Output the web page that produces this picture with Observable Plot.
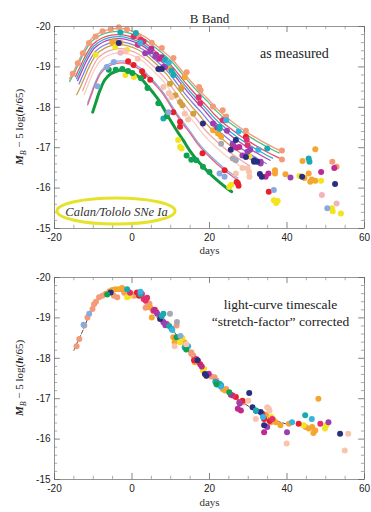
<!DOCTYPE html>
<html><head><meta charset="utf-8">
<script src="https://cdn.jsdelivr.net/npm/d3@7"></script>
<script src="https://cdn.jsdelivr.net/npm/@observablehq/plot@0.6"></script>
<style>body{margin:0;background:#fff;} #c svg{display:block;}</style>
</head><body><div id="c"></div>
<script>
// ---------- axes ----------
const xTicks = [-20, 0, 20, 40, 60];
const yTicks = [-20, -19, -18, -17, -16, -15];
const xMinor = [-15, -10, -5, 5, 10, 15, 25, 30, 35, 45, 50, 55];
const yMinor = [-19.8, -19.6, -19.4, -19.2, -18.8, -18.6, -18.4, -18.2, -17.8, -17.6, -17.4, -17.2, -16.8, -16.6, -16.4, -16.2, -15.8, -15.6, -15.4, -15.2];

// ---------- template light curve ----------
const templateDays = [-15, -14, -13, -12, -11, -10, -9, -7, -5, -3, -1, 1, 3, 5, 7, 9, 11, 13, 15, 17, 19, 21, 23, 25, 27, 29, 31, 33, 35, 37, 40];
const templateMags = [-18.2, -18.42, -18.62, -18.85, -19.08, -19.27, -19.42, -19.57, -19.64, -19.66, -19.63, -19.56, -19.45, -19.28, -19.1, -18.9, -18.64, -18.38, -18.14, -17.92, -17.68, -17.48, -17.31, -17.15, -17.01, -16.88, -16.76, -16.65, -16.55, -16.46, -16.37];
const templatePeak = -19.66;

// ---------- fitted curves in the "as measured" panel ----------
const curveColors  = ["#f59a78", "#4cc08c", "#e85068", "#30b0c8", "#b048b8", "#8080e0", "#c8a048", "#f0a8b0", "#f8d0c0", "#80b0e8", "#e86080"];
const curvePeaks   = [-19.95, -19.88, -19.8, -19.75, -19.7, -19.62, -19.55, -19.45, -19.35, -19.15, -19.1];
const curveStretch = [1.15, 1.15, 1.12, 1.1, 1.08, 1.05, 1.02, 0.98, 0.95, 0.88, 0.88];
const curveStart   = [-16, -15.5, -15, -14.5, -14.5, -14, -14, -13, -12, -11, -11];
const curveEnd     = [38.8, 38.5, 38.7, 36.5, 35.5, 34.5, 33, 31, 30, 28, 28];
const greenCurve = {color: "#129a40", peak: -18.92, stretch: 0.78, start: -10, end: 26};

// ---------- measured points (day, magnitude) ----------
const topSalmon = [[-15.3,-18.83],[-14.0,-19.09],[-12.7,-19.34],[-11.1,-19.59],[-9.4,-19.75],[-7.6,-19.88],[-5.5,-19.93],[-3.4,-19.98],[-1.3,-19.93],[1.7,-19.76],[5.1,-19.6],[7.7,-19.47],[10.7,-19.22],[14.1,-18.87],[17.3,-18.5],[17.7,-18.42],[20.9,-18.02],[23.4,-17.93],[24.3,-17.77],[29.4,-17.42],[38.7,-16.93],[38.7,-16.71],[51.7,-16.65],[52.8,-16.53]];
const topOrange = [[-5.1,-19.61],[-4.3,-19.62],[-3.0,-19.6],[9.4,-18.98],[13.6,-18.75],[12.8,-18.5],[20.9,-17.43],[22.2,-17.35],[23.0,-17.27],[36.9,-16.44],[36.9,-16.36],[39.6,-16.34],[44.0,-16.67],[45.6,-16.36],[46.4,-16.21],[47.3,-16.18],[47.3,-16.96],[46.0,-16.16],[44.5,-16.25]];
const topGold = [[9.8,-18.58],[11.2,-18.3],[12.4,-18.13],[12.7,-18.46],[13.0,-18.05],[15.8,-17.84]];
const topYellow = [[-9.4,-19.3],[-4.3,-19.49],[-1.3,-19.42],[-1.7,-18.8],[0.5,-18.75],[11.9,-17.19],[12.4,-17.02],[12.8,-16.98],[25.1,-16.03],[25.6,-16.08],[30.2,-16.8],[43.2,-16.3],[48.8,-16.18],[36.6,-15.7],[37.2,-15.63],[37.6,-15.68],[51.6,-15.5],[51.8,-15.43],[53.9,-15.37]];
const topRed = [[-1.0,-19.14],[0.4,-19.05],[2.6,-18.89],[3.0,-18.77],[4.7,-18.68],[10.65,-17.88],[12.4,-17.64],[12.4,-17.52],[18.2,-16.86],[23.9,-16.44],[27.3,-16.12],[27.5,-16.06],[27.0,-16.15],[35.3,-15.91],[29.4,-17.27]];
const topCrimson = [[0.4,-19.75],[2.3,-19.67],[3.0,-19.63],[1.5,-19.55],[17.2,-18.25],[17.6,-18.1],[23.4,-17.68],[29.6,-17.2],[29.8,-17.06],[26.0,-17.06]];
const topMagenta = [[5.0,-19.45],[6.2,-19.3],[7.0,-19.2],[7.7,-19.24],[27.0,-17.0],[27.7,-17.02],[34.5,-16.28],[35.2,-16.36],[48.8,-16.4],[52.2,-16.5]];
const topPurple = [[3.4,-19.34],[4.7,-19.38],[6.0,-19.26],[8.1,-19.0],[8.5,-19.0],[20.9,-17.6],[22.0,-17.5],[24.5,-17.42],[26.0,-17.1],[28.5,-16.81],[29.8,-16.9],[30.5,-16.95],[33.2,-16.61],[33.2,-16.65],[40.9,-16.26]];
const topNavy = [[-3.4,-19.59],[6.8,-18.95],[7.7,-18.95],[18.3,-17.6],[25.5,-16.95],[26.8,-17.19],[29.4,-16.77],[31.5,-16.65],[31.5,-16.69],[32.3,-16.65],[33.0,-16.35],[33.5,-16.28],[43.9,-16.28],[52.4,-16.1]];
const topTeal = [[-3.0,-19.85],[1.0,-19.84],[8.5,-19.18],[10.2,-18.91],[10.7,-18.8],[8.1,-17.72],[22.6,-17.47],[22.6,-17.51],[34.9,-16.98],[45.6,-16.73],[45.8,-16.65]];
const topCyan = [[2.1,-19.6],[9.5,-19.1],[24.3,-17.68],[27.5,-17.4],[32.6,-16.95]];
const topGreen = [[-6.0,-18.93],[-4.2,-18.93],[-2.5,-18.95],[-1.0,-18.9],[0.1,-18.85],[2.3,-18.72],[4.0,-18.48],[6.8,-18.1],[9.0,-17.78],[14.1,-16.81],[15.3,-16.7],[16.6,-16.69],[18.3,-16.53],[20.0,-16.4]];
const topLBlue = [[-8.9,-18.52],[-6.5,-19.0],[-4.7,-19.12],[9.4,-17.88],[22.6,-16.36],[23.9,-16.28],[36.6,-15.95],[50.4,-15.5]];
const topPeach = [[-1.7,-19.38],[1.5,-19.2],[8.1,-18.5],[9.5,-18.35],[10.2,-18.25],[13.6,-17.84],[14.5,-17.7],[26.8,-16.36],[28.5,-16.5],[29.8,-16.49],[30.2,-16.4],[30.3,-16.28]];
const topPink = [[49.0,-15.83],[52.8,-15.62],[-3.0,-19.35]];
const topGray = [[26.8,-16.69],[26.0,-16.73],[23.0,-17.1]];

const botSalmon = [[-14.3,-18.3],[-13.6,-18.48],[-12.3,-18.81],[-11.5,-19.01],[-10.2,-19.22],[-9.8,-19.34],[-9.3,-19.4],[-8.5,-19.51],[-7.65,-19.55],[-6.8,-19.6],[-5.8,-19.66],[-4.7,-19.55],[-3.8,-19.51],[-2.0,-19.62],[-1.0,-19.66],[0.5,-19.55],[1.0,-19.6],[3.5,-19.25],[3.85,-19.39],[4.5,-19.35],[6.0,-19.2],[7.0,-19.05],[11.5,-18.81],[12.8,-18.5],[15.3,-18.15],[15.8,-18.07],[15.3,-18.11],[20.5,-17.55],[21.3,-17.53],[21.8,-17.45],[24.3,-17.24],[28.8,-16.91]];
const botOrange = [[-5.1,-19.69],[-4.24,-19.71],[-3.39,-19.71],[-2.54,-19.74],[-5.8,-19.64],[-1.8,-19.68],[4.7,-19.26],[5.1,-19.01],[10.65,-18.52],[11.0,-18.4],[13.5,-18.4],[16.2,-17.9],[19.2,-17.57],[23.4,-17.24],[24.0,-17.2],[34.6,-16.6],[35.8,-16.42],[36.5,-16.48],[37.1,-16.42],[38.3,-16.34],[40.5,-16.38],[44.8,-16.3],[45.6,-16.26],[46.5,-16.3],[46.8,-16.15],[47.3,-16.21],[48.1,-17.0]];
const botYellow = [[-1.26,-19.51],[-0.5,-19.55],[12.4,-18.4],[13.0,-18.5],[18.3,-17.7],[18.6,-17.74],[36.0,-16.55],[44.3,-16.34],[49.8,-16.26],[50.2,-16.35]];
const botRed = [[1.29,-19.63],[1.8,-19.55],[16.0,-17.95],[17.6,-17.85],[26.8,-17.04],[28.5,-16.95],[34.1,-16.5],[35.5,-16.45],[43.0,-16.38]];
const botCrimson = [[-0.5,-19.62],[2.57,-19.59],[3.0,-19.47],[3.5,-19.43],[3.9,-19.5],[5.5,-19.18],[6.3,-19.14],[9.0,-18.85],[16.6,-17.98],[17.0,-17.94],[26.0,-17.08],[27.7,-16.91],[33.65,-16.63],[36.2,-16.5],[48.6,-16.38]];
const botMagenta = [[5.8,-19.2],[19.8,-17.62],[25.5,-17.1],[27.3,-16.75],[28.1,-16.71],[34.1,-16.17],[18.0,-17.8]];
const botPurple = [[6.5,-19.1],[8.1,-18.89],[8.6,-18.82],[21.8,-17.4],[27.8,-16.88],[34.9,-16.3],[40.0,-16.17],[50.7,-16.42]];
const botNavy = [[-5.5,-19.63],[7.25,-18.97],[16.9,-17.95],[18.8,-17.61],[19.2,-17.57],[30.25,-17.14],[31.1,-16.79],[32.0,-16.7],[33.2,-16.67],[34.1,-16.34],[53.7,-16.13]];
const botTeal = [[-1.26,-19.71],[2.15,-19.59],[8.1,-19.1],[7.7,-19.05],[9.6,-18.8],[10.2,-18.73],[13.6,-18.27],[21.5,-17.42],[22.0,-17.35],[22.6,-17.37],[23.0,-17.33],[31.95,-16.71],[44.7,-16.59]];
const botCyan = [[2.2,-19.65],[10.4,-18.7],[14.5,-18.3],[22.9,-17.3],[33.8,-16.55],[41.3,-16.42],[46.4,-16.5]];
const botGreen = [[-6.4,-19.58],[11.5,-18.52],[14.0,-18.22],[21.8,-17.36],[25.1,-17.16]];
const botLBlue = [[-12.5,-18.83],[-11.05,-19.1],[12.5,-18.55]];
const botPeach = [[11.0,-18.3],[14.0,-18.35],[30.0,-16.95],[31.95,-16.5],[34.9,-16.79],[35.3,-16.75],[35.5,-16.7],[39.9,-15.89],[55.8,-16.13],[54.9,-15.72]];
const botGray = [[9.8,-19.1],[11.6,-18.9]];

// ---------- text ----------
const titleText = "B Band";
const xLabel = "days";
const measuredText = ["as measured"];
const measuredPos = [[41.9, -19.33]];
const calanText = ["Calan/Tololo SNe Ia"];
const calanPos = [[-4.0, -15.42]];
const correctedText = ["light-curve timescale", "\u201cstretch-factor\u201d corrected"];
const correctedPos = [[38.3, -19.33], [38.3, -18.91]];

// ---------- build tables ----------
const C = {salmon:"#f59a78", orange:"#f4a630", gold:"#d0a040", yellow:"#f2e41e", red:"#e8202c", crimson:"#e2306e", magenta:"#c02a90", purple:"#9a40b0", navy:"#2a2e80", teal:"#18aab0", cyan:"#38b4e0", green:"#10a050", lblue:"#88aae0", peach:"#f8c4ae", pink:"#f0b4bc", gray:"#a8a8b0"};
const topGroups = [[C.salmon,topSalmon],[C.orange,topOrange],[C.gold,topGold],[C.yellow,topYellow],[C.red,topRed],[C.crimson,topCrimson],[C.magenta,topMagenta],[C.purple,topPurple],[C.navy,topNavy],[C.teal,topTeal],[C.cyan,topCyan],[C.green,topGreen],[C.lblue,topLBlue],[C.peach,topPeach],[C.pink,topPink],[C.gray,topGray]];
const botGroups = [[C.salmon,botSalmon],[C.orange,botOrange],[C.yellow,botYellow],[C.red,botRed],[C.crimson,botCrimson],[C.magenta,botMagenta],[C.purple,botPurple],[C.navy,botNavy],[C.teal,botTeal],[C.cyan,botCyan],[C.green,botGreen],[C.lblue,botLBlue],[C.peach,botPeach],[C.gray,botGray]];
const toPts = groups => groups.flatMap(([c, pts]) => pts.map(([d, m]) => ({d, m, c})));
const topPts = toPts(topGroups);
const botPts = toPts(botGroups);

const stretched = (id, color, peak, s, start, end) =>
  templateDays.map((t, j) => ({id, c: color, d: t * s, m: templateMags[j] - templatePeak + peak}))
    .filter(p => p.d >= start - 0.6 && p.d <= end + 0.6);
const curveData = curveColors.flatMap((c, i) => stretched(i, c, curvePeaks[i], curveStretch[i], curveStart[i], curveEnd[i]));
const greenData = stretched(99, greenCurve.color, greenCurve.peak, greenCurve.stretch, greenCurve.start, greenCurve.end);
const templateData = templateDays.map((d, j) => ({d, m: templateMags[j]}));

// ---------- common pieces ----------
const W = 371, H = 256;
const sans = "Liberation Sans, Arial, sans-serif";
const serif = "Liberation Serif, Times New Roman, serif";
function frameMarks() {
  return [
    Plot.frame({stroke: "#8a8a8a", strokeWidth: 0.9}),
    Plot.ruleX(xTicks, {x: d => d, y1: -15, y2: -15.15, stroke: "#666", strokeWidth: 0.8}),
    Plot.ruleX(xTicks, {x: d => d, y1: -20, y2: -19.85, stroke: "#666", strokeWidth: 0.8}),
    Plot.ruleX(xMinor, {x: d => d, y1: -15, y2: -15.08, stroke: "#888", strokeWidth: 0.7}),
    Plot.ruleX(xMinor, {x: d => d, y1: -20, y2: -19.92, stroke: "#888", strokeWidth: 0.7}),
    Plot.ruleY(yTicks, {y: d => d, x1: -20, x2: -18.5, stroke: "#666", strokeWidth: 0.8}),
    Plot.ruleY(yTicks, {y: d => d, x1: 60, x2: 58.5, stroke: "#666", strokeWidth: 0.8}),
    Plot.ruleY(yMinor, {y: d => d, x1: -20, x2: -19.2, stroke: "#888", strokeWidth: 0.7}),
    Plot.ruleY(yMinor, {y: d => d, x1: 60, x2: 59.2, stroke: "#888", strokeWidth: 0.7}),
    Plot.axisX(xTicks, {tickSize: 0, tickPadding: 5, tickFormat: d => String(d), label: null, fontSize: 10, fontFamily: sans}),
    Plot.axisY(yTicks, {tickSize: 0, tickPadding: 4, tickFormat: d => String(d), label: null, fontSize: 10, fontFamily: sans}),
  ];
}
function addYLabel(svg) {
  const sy = svg.scale("y");
  const cy = (sy.apply(-20) + sy.apply(-15)) / 2;
  const t = d3.select(svg).append("text")
    .attr("transform", `translate(23,${cy}) rotate(-90)`)
    .attr("text-anchor", "middle").attr("font-family", serif)
    .attr("font-size", 11).attr("fill", "#222");
  t.append("tspan").attr("font-style", "italic").attr("font-weight", "bold").text("M");
  t.append("tspan").attr("font-style", "italic").attr("font-size", 8).attr("dy", 2.5).text("B");
  t.append("tspan").attr("dy", -2.5).text(" \u2212 5 log(");
  t.append("tspan").attr("font-style", "italic").attr("font-weight", "bold").text("h");
  t.append("tspan").text("/65)");
}
const common = {
  width: W, height: H, marginLeft: 54, marginRight: 7,
  x: {domain: [-20, 60]},
  y: {domain: [-15, -20]},
  style: {fontFamily: sans, fontSize: "10px", color: "#222", background: "#fff", overflow: "hidden"}
};

// ---------- top panel ----------
const topPlot = Plot.plot({
  ...common, marginTop: 26, marginBottom: 28,
  marks: [
    Plot.line(curveData, {x: "d", y: "m", z: "id", stroke: "c", strokeWidth: 1.3, curve: "catmull-rom"}),
    Plot.line(greenData, {x: "d", y: "m", stroke: "c", strokeWidth: 3, curve: "catmull-rom"}),
    Plot.dot(topPts, {x: "d", y: "m", fill: "c", r: 3, stroke: null}),
    Plot.text([titleText], {frameAnchor: "top", dy: -13, text: d => d, fontFamily: serif, fontSize: 13, fill: "#222"}),
    Plot.text([xLabel], {frameAnchor: "bottom", dy: 25, text: d => d, fontFamily: serif, fontSize: 11, fill: "#333"}),
    Plot.text(measuredText, {x: (d, i) => measuredPos[i][0], y: (d, i) => measuredPos[i][1], text: d => d, fontFamily: serif, fontSize: 14, fill: "#222"}),
    Plot.text(calanText, {x: (d, i) => calanPos[i][0], y: (d, i) => calanPos[i][1], text: d => d, fontFamily: serif, fontStyle: "italic", fontSize: 12.5, fill: "#333"}),
    ...frameMarks()
  ]
});
addYLabel(topPlot);
{
  const sx = topPlot.scale("x"), sy = topPlot.scale("y");
  d3.select(topPlot).append("ellipse")
    .attr("cx", sx.apply(calanPos[0][0])).attr("cy", sy.apply(calanPos[0][1]))
    .attr("rx", 59).attr("ry", 13)
    .attr("fill", "none").attr("stroke", "#e6e22a").attr("stroke-width", 3);
}

// ---------- bottom panel ----------
const bottomPlot = Plot.plot({
  ...common, marginTop: 21, marginBottom: 33,
  marks: [
    Plot.line(templateData, {x: "d", y: "m", stroke: "#333", strokeWidth: 0.9, strokeDasharray: "4,2", curve: "catmull-rom"}),
    Plot.dot(botPts, {x: "d", y: "m", fill: "c", r: 3, stroke: null}),
    Plot.text([xLabel], {frameAnchor: "bottom", dy: 26, text: d => d, fontFamily: serif, fontSize: 11, fill: "#333"}),
    Plot.text(correctedText, {x: (d, i) => correctedPos[i][0], y: (d, i) => correctedPos[i][1], text: d => d, fontFamily: serif, fontSize: 13.5, fill: "#222"}),
    ...frameMarks()
  ]
});
addYLabel(bottomPlot);

document.getElementById("c").append(topPlot, bottomPlot);
</script></body></html>
